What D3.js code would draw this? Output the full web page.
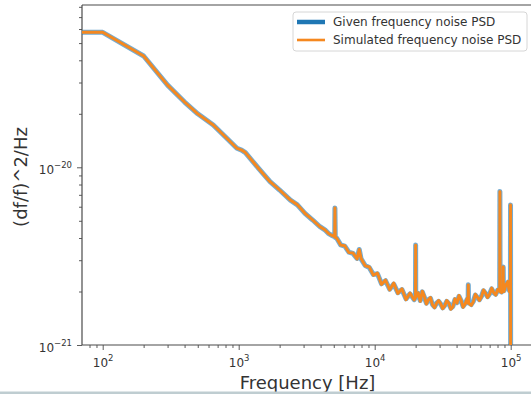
<!DOCTYPE html>
<html><head><meta charset="utf-8">
<script src="https://cdn.jsdelivr.net/npm/d3@7"></script>
<style>
body{margin:0;background:#fff}
svg{display:block}
text{font-family:"DejaVu Sans",sans-serif;fill:#333}
</style>
</head><body>
<svg id="c" width="531" height="394"></svg>
<script>
// ---- data ----
const freq = [70,100,200,300,400,500,650,800,970,1050,1120,1400,1700,2000,2400,2700,3070,3500,3960,4300,4560,4800,
  5080,5100,5130,5248,5623,6026,6457,6918,7413,7700,7943,8511,9120,9772,10471,11220,12023,12882,13804,14791,15849,16982,18197,19498,
  19950,20000,20050,20893,21630,22387,23170,23988,24830,25704,26610,27542,28510,29512,30550,31623,32730,33884,35070,36308,37580,38905,40270,41687,43150,44668,46240,47863,
  48600,48800,49000,51286,53090,54954,56880,58884,60950,63096,65310,67608,69980,72444,74990,77625,80270,
  83000,83300,83600,85800,87800,88100,88400,89125,92260,95499,96600,97724,99500,99700,100000];

const simPsd = [5.75e-20,5.75e-20,4.23e-20,2.90e-20,2.33e-20,2.00e-20,1.73e-20,1.48e-20,1.28e-20,1.25e-20,1.21e-20,9.85e-21,8.30e-21,7.45e-21,6.54e-21,6.15e-21,5.51e-21,5.05e-21,4.63e-21,4.45e-21,4.25e-21,4.15e-21,
  4.07e-21,5.90e-21,4.03e-21,4.00e-21,3.65e-21,3.62e-21,3.31e-21,3.30e-21,3.05e-21,3.45e-21,3.07e-21,2.79e-21,2.75e-21,2.47e-21,2.54e-21,2.19e-21,2.32e-21,2.04e-21,2.23e-21,1.95e-21,2.07e-21,1.80e-21,1.96e-21,1.79e-21,
  1.85e-21,3.65e-21,1.85e-21,1.97e-21,1.76e-21,2.01e-21,1.88e-21,1.70e-21,1.80e-21,1.85e-21,1.68e-21,1.62e-21,1.72e-21,1.78e-21,1.71e-21,1.60e-21,1.66e-21,1.78e-21,1.72e-21,1.59e-21,1.64e-21,1.82e-21,1.72e-21,1.90e-21,1.79e-21,1.63e-21,1.70e-21,1.83e-21,
  1.72e-21,2.18e-21,1.72e-21,1.67e-21,1.75e-21,1.93e-21,1.86e-21,1.78e-21,1.87e-21,2.04e-21,1.96e-21,1.85e-21,1.93e-21,2.09e-21,1.97e-21,1.91e-21,2.05e-21,
  2.00e-21,7.30e-21,2.00e-21,1.97e-21,2.05e-21,2.75e-21,2.05e-21,2.00e-21,2.18e-21,2.28e-21,2.10e-21,2.00e-21,2.15e-21,6.13e-21,3.0e-22];

// the given PSD lies under the simulated one; it is slightly smoother in the noisy band
const givenPsd = [5.75e-20,5.75e-20,4.23e-20,2.90e-20,2.33e-20,2.00e-20,1.73e-20,1.48e-20,1.28e-20,1.25e-20,1.21e-20,9.85e-21,8.30e-21,7.45e-21,6.54e-21,6.15e-21,5.51e-21,5.05e-21,4.63e-21,4.45e-21,4.25e-21,4.15e-21,
  4.07e-21,5.90e-21,4.03e-21,4.00e-21,3.66e-21,3.60e-21,3.33e-21,3.28e-21,3.07e-21,3.45e-21,3.05e-21,2.80e-21,2.73e-21,2.49e-21,2.52e-21,2.21e-21,2.30e-21,2.06e-21,2.20e-21,1.97e-21,2.05e-21,1.82e-21,1.94e-21,1.80e-21,
  1.85e-21,3.65e-21,1.85e-21,1.95e-21,1.78e-21,1.99e-21,1.86e-21,1.72e-21,1.80e-21,1.83e-21,1.69e-21,1.64e-21,1.72e-21,1.76e-21,1.70e-21,1.62e-21,1.67e-21,1.76e-21,1.71e-21,1.61e-21,1.65e-21,1.80e-21,1.73e-21,1.88e-21,1.78e-21,1.65e-21,1.71e-21,1.81e-21,
  1.73e-21,2.18e-21,1.73e-21,1.69e-21,1.76e-21,1.91e-21,1.85e-21,1.80e-21,1.88e-21,2.02e-21,1.95e-21,1.87e-21,1.94e-21,2.07e-21,1.97e-21,1.93e-21,2.04e-21,
  2.01e-21,7.30e-21,2.01e-21,1.99e-21,2.05e-21,2.75e-21,2.05e-21,2.02e-21,2.16e-21,2.25e-21,2.11e-21,2.03e-21,2.15e-21,6.13e-21,3.0e-22];

const xMajorExps = [2,3,4,5];
const yMajorExps = [-21,-20];
const seriesNames = ["Given frequency noise PSD","Simulated frequency noise PSD"];
const seriesColors = ["#1f77b4","#f5881f"];
const xLabelText = "Frequency [Hz]";
const yLabelText = "(df/f)^2/Hz";

// ---- layout ----
const L = 82, T = 5, R = 533, B = 345;
const svg = d3.select("#c");
const x = d3.scaleLog().domain([Math.pow(10,1.8478), Math.pow(10,5.164)]).range([L, R]);
const y = d3.scaleLog().domain([1e-21, Math.pow(10,-19.0867)]).range([B, T]);

svg.append("defs").append("clipPath").attr("id","clip")
  .append("rect").attr("x",L).attr("y",T).attr("width",R-L).attr("height",B-T);

// minor tick values
const [x0,x1] = x.domain(), [y0,y1] = y.domain();
const xMinor = [], yMinor = [];
for (let e=1;e<=5;e++) for (let k=2;k<=9;k++){const v=k*Math.pow(10,e); if(v>=x0&&v<=x1) xMinor.push(v);}
for (let e=-22;e<=-19;e++) for (let k=2;k<=9;k++){const v=k*Math.pow(10,e); if(v>=y0*1.0001&&v<=y1) yMinor.push(v);}

const axisColor = "#4a4a4a";
function styleAxis(g){ g.select(".domain").remove(); g.selectAll("line").attr("stroke",axisColor).attr("stroke-width",0.9); }

svg.append("g").attr("transform",`translate(0,${B})`)
  .call(d3.axisBottom(x).tickValues(xMinor).tickSize(3).tickFormat(""))
  .call(styleAxis);
svg.append("g").attr("transform",`translate(${L},0)`)
  .call(d3.axisLeft(y).tickValues(yMinor).tickSize(3).tickFormat(""))
  .call(styleAxis);

const xMaj = svg.append("g").attr("transform",`translate(0,${B})`)
  .call(d3.axisBottom(x).tickValues(xMajorExps.map(e=>Math.pow(10,e))).tickSize(5).tickFormat(""))
  .call(styleAxis);
xMaj.selectAll(".tick").each(function(d,i){
  const t = d3.select(this).append("text").attr("y",21.5).attr("text-anchor","middle")
    .style("font-size","12px").attr("fill","#333");
  t.append("tspan").text("10");
  t.append("tspan").attr("dy",-6).style("font-size","8.5px").text(String(xMajorExps[i]));
});
const yMaj = svg.append("g").attr("transform",`translate(${L},0)`)
  .call(d3.axisLeft(y).tickValues(yMajorExps.map(e=>Math.pow(10,e))).tickSize(5).tickFormat(""))
  .call(styleAxis);
yMaj.selectAll(".tick").each(function(d,i){
  const t = d3.select(this).append("text").attr("x",-10).attr("y",6).attr("text-anchor","end")
    .style("font-size","12px").attr("fill","#333");
  t.append("tspan").text("10");
  t.append("tspan").attr("dy",-6).style("font-size","8.5px").text("\u2212"+String(-yMajorExps[i]));
});

// spines
[[L,T,L,B],[L,B,R,B],[L,T,R,T],[R,T,R,B]].forEach(s=>{
  svg.append("line").attr("x1",s[0]).attr("y1",s[1]).attr("x2",s[2]).attr("y2",s[3])
    .attr("stroke",axisColor).attr("stroke-width",1.2);
});

// lines
const line = d3.line().x(d=>x(d[0])).y(d=>y(d[1]));
const plot = svg.append("g").attr("clip-path","url(#clip)");
plot.append("path").datum(d3.zip(freq,givenPsd)).attr("d",line)
  .attr("fill","none").attr("stroke",seriesColors[0]).attr("stroke-opacity",0.62).attr("stroke-width",5)
  .attr("stroke-linejoin","round").attr("stroke-linecap","square");
plot.append("path").datum(d3.zip(freq,simPsd)).attr("d",line)
  .attr("fill","none").attr("stroke",seriesColors[1]).attr("stroke-width",2.9)
  .attr("stroke-linejoin","round").attr("stroke-linecap","square");

// legend
const lg = svg.append("g");
lg.append("rect").attr("x",293).attr("y",12).attr("width",234).attr("height",39).attr("rx",3)
  .attr("fill","#fff").attr("fill-opacity",0.85).attr("stroke","#d6d6d6").attr("stroke-width",1);
seriesNames.forEach((n,i)=>{
  const cy = 22 + i*18;
  lg.append("line").attr("x1",297).attr("x2",325).attr("y1",cy).attr("y2",cy)
    .attr("stroke",seriesColors[i]).attr("stroke-width", i===0?4.5:2.6);
  lg.append("text").attr("x",333).attr("y",cy+4.3).style("font-size","12px").attr("fill","#333").text(n);
});

// axis labels
svg.append("text").attr("x",(L+R)/2).attr("y",389).attr("text-anchor","middle")
  .style("font-size","18px").attr("fill","#333").text(xLabelText);
svg.append("text").attr("transform",`translate(27,${(T+B)/2+2}) rotate(-90)`).attr("text-anchor","middle")
  .style("font-size","18px").attr("fill","#333").text(yLabelText);

// bottom edge strip of the screenshot
svg.append("rect").attr("x",0).attr("y",391.5).attr("width",531).attr("height",2.5).attr("fill","#bfcdd1");
</script>
</body></html>
